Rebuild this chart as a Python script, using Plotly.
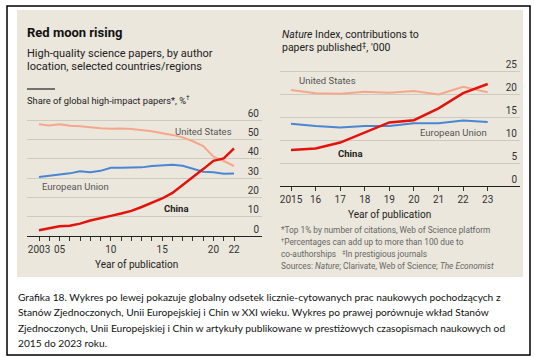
import plotly.graph_objects as go

W, H = 535, 357

# ---- data: left chart (share of global high-impact papers, %)
years_left = list(range(2003, 2023))
us_left = [57.8, 57.2, 57.8, 57.0, 56.8, 56.2, 55.7, 55.5, 55.6, 55.3, 54.8, 54.2, 53.2, 52.3, 51.0, 49.0, 46.5, 41.0, 38.8, 36.2]
eu_left = [30.5, 31.2, 31.9, 32.4, 33.5, 33.0, 33.7, 35.3, 35.3, 35.3, 35.5, 36.2, 36.6, 36.8, 36.3, 34.8, 33.2, 33.0, 32.2, 32.3]
cn_left = [3.0, 4.0, 5.0, 5.3, 6.4, 8.0, 9.4, 10.4, 11.6, 13.0, 15.0, 17.4, 19.4, 22.3, 26.3, 30.5, 34.6, 38.9, 40.1, 45.3]
left_ticks = [2003, 2005, 2010, 2015, 2020, 2022]
left_ticktext = ["2003", "05", "10", "15", "20", "22"]
left_yticks = [0, 10, 20, 30, 40, 50, 60]

# ---- data: right chart (Nature Index contributions, '000)
years_right = list(range(2015, 2024))
us_right = [21.0, 20.3, 20.2, 20.6, 20.4, 20.8, 20.0, 21.7, 20.5]
eu_right = [13.6, 13.1, 12.8, 13.1, 13.1, 13.7, 13.7, 14.3, 14.0]
cn_right = [7.9, 8.2, 9.5, 11.7, 13.9, 14.4, 17.0, 20.3, 22.3]
right_ticktext = ["2015", "16", "17", "18", "19", "20", "21", "22", "23"]
right_yticks = [0, 5, 10, 15, 20, 25]

BG = "#ebe7dc"
GRID = "#cfcabe"
US_C = "#f5a78c"
EU_C = "#4a86d4"
CN_C = "#e3120b"
TXT = "#555555"
FONT = "Roboto"


def fx(x):
    return x / W


def fy(y):
    return 1 - y / H


fig = go.Figure()

# left chart traces
fig.add_trace(go.Scatter(x=years_left, y=us_left, mode="lines", line=dict(color=US_C, width=2), xaxis="x", yaxis="y"))
fig.add_trace(go.Scatter(x=years_left, y=eu_left, mode="lines", line=dict(color=EU_C, width=2), xaxis="x", yaxis="y"))
fig.add_trace(go.Scatter(x=years_left, y=cn_left, mode="lines", line=dict(color=CN_C, width=2.5), xaxis="x", yaxis="y"))
# right chart traces
fig.add_trace(go.Scatter(x=years_right, y=us_right, mode="lines", line=dict(color=US_C, width=2), xaxis="x2", yaxis="y2"))
fig.add_trace(go.Scatter(x=years_right, y=eu_right, mode="lines", line=dict(color=EU_C, width=2), xaxis="x2", yaxis="y2"))
fig.add_trace(go.Scatter(x=years_right, y=cn_right, mode="lines", line=dict(color=CN_C, width=2.5), xaxis="x2", yaxis="y2"))

# left axes geometry (pixels)
L_x0, L_x1 = 27, 262
L_y0, L_y1 = 236, 104
lx_per = (234 - 39) / 19.0
l_range_x = [2003 - (39 - L_x0) / lx_per, 2003 + (L_x1 - 39) / lx_per]
ly_per = (236 - 120) / 60.0
l_range_y = [0, (L_y0 - L_y1) / ly_per]

# right axes geometry
R_x0, R_x1 = 280, 520
R_y0, R_y1 = 186, 56
rx_per = (487.7 - 291) / 8.0
r_range_x = [2015 - (291 - R_x0) / rx_per, 2015 + (R_x1 - 291) / rx_per]
ry_per = (186 - 71.7) / 25.0
r_range_y = [0, (R_y0 - R_y1) / ry_per]

axis_font = dict(family=FONT, size=10, color="#333333")

fig.update_layout(
    width=W, height=H, autosize=False,
    margin=dict(l=0, r=0, t=0, b=0),
    paper_bgcolor="white", plot_bgcolor="rgba(0,0,0,0)",
    showlegend=False,
    xaxis=dict(domain=[fx(L_x0), fx(L_x1)], range=l_range_x, anchor="y",
               tickvals=years_left,
               ticktext=[left_ticktext[left_ticks.index(y)] if y in left_ticks else "" for y in years_left],
               ticks="outside", ticklen=4, tickcolor="#333", tickwidth=1,
               showline=True, linecolor="#222", linewidth=1.2, showgrid=False, zeroline=False,
               tickfont=axis_font, fixedrange=True),
    yaxis=dict(domain=[fy(L_y0), fy(L_y1)], range=l_range_y, anchor="x", side="right",
               tickvals=left_yticks, ticklabelposition="inside top",
               showgrid=True, gridcolor=GRID, gridwidth=1, zeroline=False, showline=False,
               ticks="", tickfont=axis_font, fixedrange=True),
    xaxis2=dict(domain=[fx(R_x0), fx(R_x1)], range=r_range_x, anchor="y2",
                tickvals=years_right, ticktext=right_ticktext,
                ticks="outside", ticklen=4, tickcolor="#333", tickwidth=1,
                showline=True, linecolor="#222", linewidth=1.2, showgrid=False, zeroline=False,
                tickfont=axis_font, fixedrange=True),
    yaxis2=dict(domain=[fy(R_y0), fy(R_y1)], range=r_range_y, anchor="x2", side="right",
                tickvals=right_yticks, ticklabelposition="inside top",
                showgrid=True, gridcolor=GRID, gridwidth=1, zeroline=False, showline=False,
                ticks="", tickfont=axis_font, fixedrange=True),
)

shapes = [
    dict(type="rect", xref="paper", yref="paper", x0=fx(17), x1=fx(523), y0=fy(277), y1=fy(10),
         fillcolor=BG, line=dict(width=0), layer="below"),
    dict(type="rect", xref="paper", yref="paper", x0=fx(7), x1=fx(530), y0=fy(355), y1=fy(6),
         fillcolor="rgba(0,0,0,0)", line=dict(color="black", width=1.5)),
    dict(type="line", xref="paper", yref="paper", x0=fx(27), x1=fx(55), y0=fy(89), y1=fy(89),
         line=dict(color="#222", width=1.2)),
]
fig.update_layout(shapes=shapes)


def ann(text, x, y, size=10.5, color="#222", xanchor="left", family=FONT, yanchor="middle"):
    fig.add_annotation(text=text, x=fx(x), y=fy(y), xref="paper", yref="paper", showarrow=False,
                       xanchor=xanchor, yanchor=yanchor, align="left", borderpad=0,
                       font=dict(family=family, size=size, color=color))


ann("<b>Red moon rising</b>", 26, 32, size=13, color="#111")
ann("High-quality science papers, by author", 26, 53, size=11, color="#222")
ann("location, selected countries/regions", 26, 66, size=11, color="#222")
ann("Share of global high-impact papers*, %<sup>†</sup>", 26, 100, size=9.3, color="#222")
ann("<i>Nature</i> Index, contributions to", 281, 35, size=10.5, color="#222")
ann("papers published<sup>‡</sup>, '000", 281, 47, size=10.5, color="#222")

# series labels
ann("United States", 233, 131, size=9.5, color=TXT, xanchor="right")
ann("European Union", 41, 186, size=9.5, color=TXT)
ann("<b>China</b>", 163, 208, size=9.5, color="#222")
ann("United States", 298, 81, size=9.5, color=TXT)
ann("European Union", 488, 132, size=9.5, color=TXT, xanchor="right")
ann("<b>China</b>", 337, 153, size=9.5, color="#222")

# axis titles
ann("Year of publication", 136, 264, size=10, color="#222", xanchor="center")
ann("Year of publication", 389, 214, size=10, color="#222", xanchor="center")

# footnotes
foot = [
    "*Top 1% by number of citations, Web of Science platform",
    "<sup>†</sup>Percentages can add up to more than 100 due to",
    "co-authorships   <sup>‡</sup>In prestigious journals",
    "Sources: <i>Nature</i>; Clarivate, Web of Science; <i>The Economist</i>",
]
for i, t in enumerate(foot):
    ann(t, 280, 230 + i * 12, size=8.3, color="#666")

# caption
cap = [
    "Grafika 18. Wykres po lewej pokazuje globalny odsetek licznie-cytowanych prac naukowych pochodzących z",
    "Stanów Zjednoczonych, Unii Europejskiej i Chin w XXI wieku. Wykres po prawej porównuje wkład Stanów",
    "Zjednoczonych, Unii Europejskiej i Chin w artykuły publikowane w prestiżowych czasopismach naukowych od",
    "2015 do 2023 roku.",
]
for i, t in enumerate(cap):
    ann(t, 17, 297 + i * 15.3, size=10.2, color="#111", family="Lato")

fig.write_html("out.html", config={"displayModeBar": False},
               post_script="document.body.style.margin='0';document.body.style.overflow='hidden';")
